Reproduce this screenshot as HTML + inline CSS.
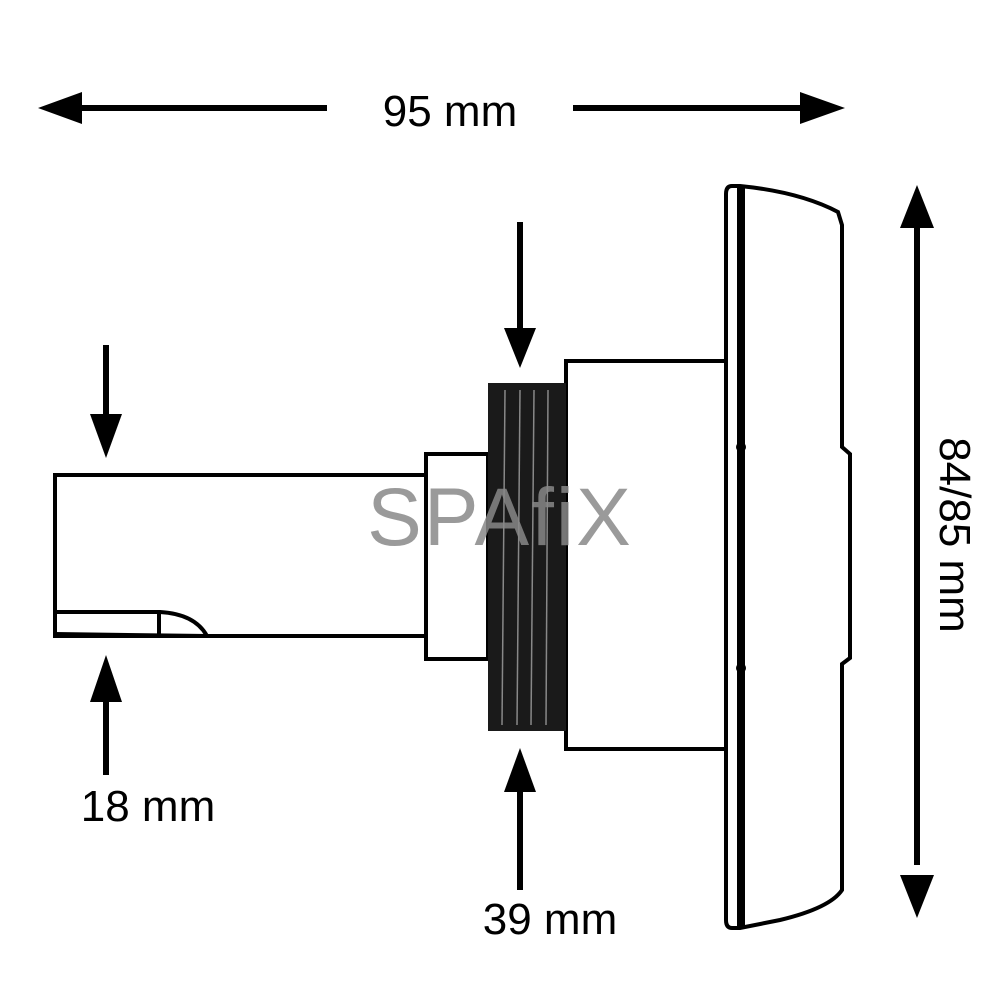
<!DOCTYPE html>
<html><head><style>
html,body{margin:0;padding:0;background:#fff;}
svg{display:block;}
text{font-family:"Liberation Sans",sans-serif;}
</style></head><body>
<svg width="1000" height="1000" viewBox="0 0 1000 1000" xmlns="http://www.w3.org/2000/svg">
<g fill="#000" stroke="none">
<rect x="75" y="105" width="252" height="6"/>
<polygon points="38,108 82,92 82,124"/>
<rect x="573" y="105" width="232" height="6"/>
<polygon points="845,108 800,92 800,124"/>
<rect x="914" y="225" width="6" height="640"/>
<polygon points="917,185 900,228 934,228"/>
<polygon points="917,918 900,875 934,875"/>
<rect x="103" y="345" width="6" height="75"/>
<polygon points="106,458 90,414 122,414"/>
<rect x="103" y="700" width="6" height="75"/>
<polygon points="106,655 90,702 122,702"/>
<rect x="517" y="222" width="6" height="120"/>
<polygon points="520,368 504,328 536,328"/>
<rect x="517" y="790" width="6" height="100"/>
<polygon points="520,748 504,792 536,792"/>
</g>
<text x="450" y="126" font-size="44" text-anchor="middle">95 mm</text>
<text x="148" y="821" font-size="44" text-anchor="middle">18 mm</text>
<text x="550" y="934" font-size="44" text-anchor="middle">39 mm</text>
<text x="0" y="0" font-size="44" text-anchor="middle" transform="translate(940,535) rotate(90)">84/85 mm</text>

<g fill="none" stroke="#000" stroke-width="4">
<path d="M425,475 L55,475 L55,636 L425,636"/>
<path d="M55,612 L160,612 Q195,614 207,636"/>
<line x1="55" y1="634" x2="207" y2="636"/>
<line x1="159" y1="612" x2="159" y2="634"/>
<rect x="426" y="454" width="62" height="205"/>
<rect x="566" y="361" width="160" height="388"/>
</g>
<rect x="488" y="383" width="78" height="348" fill="#1a1a1a"/>
<g stroke="#888" stroke-width="1.5">
<line x1="505" y1="390" x2="502" y2="725"/>
<line x1="520" y1="390" x2="517" y2="725"/>
<line x1="534" y1="390" x2="531" y2="725"/>
<line x1="548" y1="390" x2="546" y2="725"/>
</g>
<g fill="none" stroke="#000" stroke-width="4">
<path d="M732,186 L740,186 Q800,192 838,212 L842,225 L842,447 L850,454 L850,658 L842,664 L842,890 Q830,908 780,920 L740,928 L732,928 Q726,928 726,920 L726,194 Q726,186 732,186 Z"/>
</g>
<rect x="737" y="186" width="8" height="742" fill="#000"/>
<g fill="#000"><circle cx="741" cy="447" r="5"/><circle cx="741" cy="668" r="5"/></g>
<text x="500" y="545" font-size="82" fill="#888" fill-opacity="0.85" text-anchor="middle" letter-spacing="2">SPAfiX</text>
</svg>
</body></html>
